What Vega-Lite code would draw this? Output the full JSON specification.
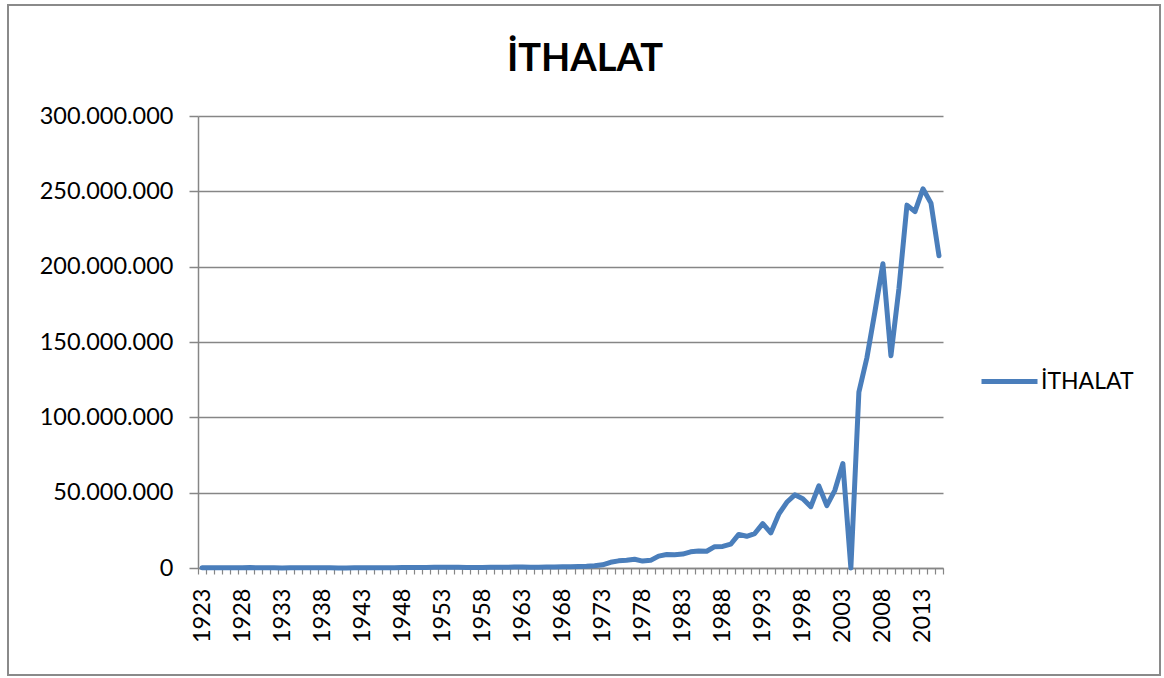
{
  "$schema": "https://vega.github.io/schema/vega-lite/v6.json",
  "width": 1152,
  "height": 670,
  "autosize": {"type": "none"},
  "padding": {"left": 8, "top": 5, "right": 4, "bottom": 3},
  "background": "white",
  "title": {
    "text": "İTHALAT",
    "font": "Lato",
    "fontSize": 38,
    "fontWeight": "bold",
    "color": "#000000",
    "anchor": "middle",
    "baseline": "alphabetic",
    "offset": -104,
    "dx": 1
  },
  "config": {
    "view": {"stroke": "#8a8a8a", "strokeWidth": 2},
    "font": "Lato"
  },
  "data": {
    "values": [
      {"year": 1923, "value": 144788, "series": "İTHALAT"},
      {"year": 1924, "value": 193611, "series": "İTHALAT"},
      {"year": 1925, "value": 241629, "series": "İTHALAT"},
      {"year": 1926, "value": 234668, "series": "İTHALAT"},
      {"year": 1927, "value": 211417, "series": "İTHALAT"},
      {"year": 1928, "value": 223497, "series": "İTHALAT"},
      {"year": 1929, "value": 256279, "series": "İTHALAT"},
      {"year": 1930, "value": 147594, "series": "İTHALAT"},
      {"year": 1931, "value": 126396, "series": "İTHALAT"},
      {"year": 1932, "value": 85652, "series": "İTHALAT"},
      {"year": 1933, "value": 74694, "series": "İTHALAT"},
      {"year": 1934, "value": 86872, "series": "İTHALAT"},
      {"year": 1935, "value": 88765, "series": "İTHALAT"},
      {"year": 1936, "value": 92476, "series": "İTHALAT"},
      {"year": 1937, "value": 114379, "series": "İTHALAT"},
      {"year": 1938, "value": 118917, "series": "İTHALAT"},
      {"year": 1939, "value": 92502, "series": "İTHALAT"},
      {"year": 1940, "value": 50035, "series": "İTHALAT"},
      {"year": 1941, "value": 55349, "series": "İTHALAT"},
      {"year": 1942, "value": 112879, "series": "İTHALAT"},
      {"year": 1943, "value": 154202, "series": "İTHALAT"},
      {"year": 1944, "value": 126193, "series": "İTHALAT"},
      {"year": 1945, "value": 97077, "series": "İTHALAT"},
      {"year": 1946, "value": 118876, "series": "İTHALAT"},
      {"year": 1947, "value": 244628, "series": "İTHALAT"},
      {"year": 1948, "value": 275085, "series": "İTHALAT"},
      {"year": 1949, "value": 290196, "series": "İTHALAT"},
      {"year": 1950, "value": 285654, "series": "İTHALAT"},
      {"year": 1951, "value": 402086, "series": "İTHALAT"},
      {"year": 1952, "value": 555920, "series": "İTHALAT"},
      {"year": 1953, "value": 532534, "series": "İTHALAT"},
      {"year": 1954, "value": 478359, "series": "İTHALAT"},
      {"year": 1955, "value": 497637, "series": "İTHALAT"},
      {"year": 1956, "value": 407340, "series": "İTHALAT"},
      {"year": 1957, "value": 397125, "series": "İTHALAT"},
      {"year": 1958, "value": 315098, "series": "İTHALAT"},
      {"year": 1959, "value": 469953, "series": "İTHALAT"},
      {"year": 1960, "value": 468186, "series": "İTHALAT"},
      {"year": 1961, "value": 509615, "series": "İTHALAT"},
      {"year": 1962, "value": 619455, "series": "İTHALAT"},
      {"year": 1963, "value": 687616, "series": "İTHALAT"},
      {"year": 1964, "value": 537229, "series": "İTHALAT"},
      {"year": 1965, "value": 571953, "series": "İTHALAT"},
      {"year": 1966, "value": 718269, "series": "İTHALAT"},
      {"year": 1967, "value": 684668, "series": "İTHALAT"},
      {"year": 1968, "value": 763659, "series": "İTHALAT"},
      {"year": 1969, "value": 801236, "series": "İTHALAT"},
      {"year": 1970, "value": 947604, "series": "İTHALAT"},
      {"year": 1971, "value": 1170840, "series": "İTHALAT"},
      {"year": 1972, "value": 1562550, "series": "İTHALAT"},
      {"year": 1973, "value": 2086216, "series": "İTHALAT"},
      {"year": 1974, "value": 3777501, "series": "İTHALAT"},
      {"year": 1975, "value": 4738558, "series": "İTHALAT"},
      {"year": 1976, "value": 5128650, "series": "İTHALAT"},
      {"year": 1977, "value": 5796278, "series": "İTHALAT"},
      {"year": 1978, "value": 4599025, "series": "İTHALAT"},
      {"year": 1979, "value": 5069432, "series": "İTHALAT"},
      {"year": 1980, "value": 7909364, "series": "İTHALAT"},
      {"year": 1981, "value": 8933374, "series": "İTHALAT"},
      {"year": 1982, "value": 8842665, "series": "İTHALAT"},
      {"year": 1983, "value": 9235002, "series": "İTHALAT"},
      {"year": 1984, "value": 10756922, "series": "İTHALAT"},
      {"year": 1985, "value": 11343375, "series": "İTHALAT"},
      {"year": 1986, "value": 11104771, "series": "İTHALAT"},
      {"year": 1987, "value": 14157819, "series": "İTHALAT"},
      {"year": 1988, "value": 14335398, "series": "İTHALAT"},
      {"year": 1989, "value": 15792143, "series": "İTHALAT"},
      {"year": 1990, "value": 22302126, "series": "İTHALAT"},
      {"year": 1991, "value": 21047014, "series": "İTHALAT"},
      {"year": 1992, "value": 22871055, "series": "İTHALAT"},
      {"year": 1993, "value": 29428370, "series": "İTHALAT"},
      {"year": 1994, "value": 23270019, "series": "İTHALAT"},
      {"year": 1995, "value": 35709011, "series": "İTHALAT"},
      {"year": 1996, "value": 43626642, "series": "İTHALAT"},
      {"year": 1997, "value": 48558721, "series": "İTHALAT"},
      {"year": 1998, "value": 45921392, "series": "İTHALAT"},
      {"year": 1999, "value": 40671272, "series": "İTHALAT"},
      {"year": 2000, "value": 54502821, "series": "İTHALAT"},
      {"year": 2001, "value": 41399083, "series": "İTHALAT"},
      {"year": 2002, "value": 51553797, "series": "İTHALAT"},
      {"year": 2003, "value": 69339692, "series": "İTHALAT"},
      {"year": 2004, "value": 0, "series": "İTHALAT"},
      {"year": 2005, "value": 116774151, "series": "İTHALAT"},
      {"year": 2006, "value": 139576174, "series": "İTHALAT"},
      {"year": 2007, "value": 170062715, "series": "İTHALAT"},
      {"year": 2008, "value": 201963574, "series": "İTHALAT"},
      {"year": 2009, "value": 140928421, "series": "İTHALAT"},
      {"year": 2010, "value": 185544332, "series": "İTHALAT"},
      {"year": 2011, "value": 240841676, "series": "İTHALAT"},
      {"year": 2012, "value": 236545141, "series": "İTHALAT"},
      {"year": 2013, "value": 251661250, "series": "İTHALAT"},
      {"year": 2014, "value": 242177117, "series": "İTHALAT"},
      {"year": 2015, "value": 207234359, "series": "İTHALAT"}
    ]
  },
  "layer": [
    {
      "mark": {"type": "point", "opacity": 0},
      "encoding": {
        "x": {
          "field": "year",
          "type": "quantitative",
          "scale": {"domain": [1922.5, 2015.5], "nice": false, "zero": false, "range": [190, 935]},
          "axis": {
            "orient": "bottom",
            "offset": -107,
            "title": null,
            "grid": false,
            "labels": false,
            "domain": true,
            "domainColor": "#868686",
            "domainWidth": 1.5,
            "ticks": true,
            "tickColor": "#868686",
            "tickWidth": 1.2,
            "tickSize": 6,
            "values": [1922.5,1923.5,1924.5,1925.5,1926.5,1927.5,1928.5,1929.5,1930.5,1931.5,1932.5,1933.5,1934.5,1935.5,1936.5,1937.5,1938.5,1939.5,1940.5,1941.5,1942.5,1943.5,1944.5,1945.5,1946.5,1947.5,1948.5,1949.5,1950.5,1951.5,1952.5,1953.5,1954.5,1955.5,1956.5,1957.5,1958.5,1959.5,1960.5,1961.5,1962.5,1963.5,1964.5,1965.5,1966.5,1967.5,1968.5,1969.5,1970.5,1971.5,1972.5,1973.5,1974.5,1975.5,1976.5,1977.5,1978.5,1979.5,1980.5,1981.5,1982.5,1983.5,1984.5,1985.5,1986.5,1987.5,1988.5,1989.5,1990.5,1991.5,1992.5,1993.5,1994.5,1995.5,1996.5,1997.5,1998.5,1999.5,2000.5,2001.5,2002.5,2003.5,2004.5,2005.5,2006.5,2007.5,2008.5,2009.5,2010.5,2011.5,2012.5,2013.5,2014.5,2015.5]
          }
        },
        "y": {
          "field": "value",
          "type": "quantitative",
          "scale": {"domain": [0, 300000000], "nice": false, "range": [563, 111]},
          "axis": {
            "offset": -190,
            "title": null,
            "values": [0, 50000000, 100000000, 150000000, 200000000, 250000000, 300000000],
            "labelExpr": "replace(format(datum.value, ','), /,/g, '.')",
            "labelFont": "Lato",
            "labelFontSize": 23.5,
            "labelColor": "#000000",
            "labelPadding": 16,
            "tickSize": 9,
            "tickColor": "#868686",
            "tickWidth": 1.5,
            "domainColor": "#868686",
            "domainWidth": 1.5,
            "grid": true,
            "gridColor": "#868686",
            "gridWidth": 1.5
          }
        }
      }
    },
    {
      "mark": {"type": "line", "strokeWidth": 5, "strokeJoin": "round", "strokeCap": "round"},
      "encoding": {
        "x": {
          "field": "year",
          "type": "quantitative",
          "axis": {
            "orient": "bottom",
            "offset": -107,
            "title": null,
            "grid": false,
            "domain": false,
            "ticks": false,
            "values": [1923, 1928, 1933, 1938, 1943, 1948, 1953, 1958, 1963, 1968, 1973, 1978, 1983, 1988, 1993, 1998, 2003, 2008, 2013],
            "format": "d",
            "labelAngle": -90,
            "labelFont": "Lato",
            "labelFontSize": 23.5,
            "labelColor": "#000000",
            "labelPadding": 20
          }
        },
        "y": {"field": "value", "type": "quantitative"},
        "color": {
          "field": "series",
          "type": "nominal",
          "scale": {"range": ["#4a7ebb"]},
          "legend": {
            "title": null,
            "orient": "none",
            "legendX": 971,
            "legendY": 346,
            "symbolType": "stroke",
            "symbolStrokeWidth": 5,
            "symbolSize": 3136,
            "labelFont": "Lato",
            "labelFontSize": 23,
            "labelColor": "#000000",
            "labelOffset": 1
          }
        }
      }
    }
  ],
  "resolve": {"axis": {"x": "independent"}}
}
